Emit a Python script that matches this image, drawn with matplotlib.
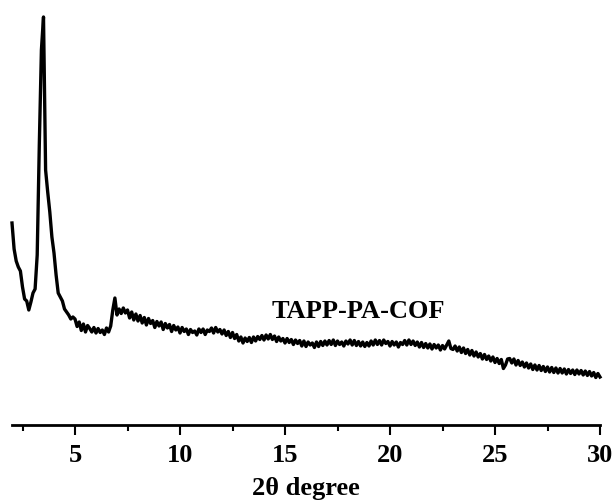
import numpy as np
import matplotlib
matplotlib.use("Agg")
import matplotlib.pyplot as plt
from matplotlib.ticker import MultipleLocator

plt.rcParams["font.family"] = ["Liberation Serif", "DejaVu Serif"]
plt.rcParams["font.weight"] = "bold"

# XRD pattern, 2-theta grid 2.0 .. 30.0 step 0.1 deg, intensity (a.u.)
two_theta = np.round(np.arange(2.0, 30.05, 0.1), 1)
intensity = [
    2020, 1760, 1640, 1580, 1540, 1380, 1260, 1240, 1150, 1230,
    1320, 1360, 1700, 2800, 3750, 4080, 2550, 2330, 2130, 1880,
    1720, 1500, 1320, 1280, 1240, 1160, 1130, 1100, 1060, 1080,
    1060, 985, 1030, 945, 1010, 930, 995, 965, 930, 975,
    920, 965, 925, 950, 905, 970, 930, 990, 1150, 1270,
    1100, 1160, 1115, 1170, 1120, 1150, 1070, 1130, 1050, 1110,
    1040, 1095, 1020, 1075, 1000, 1065, 1015, 1045, 975, 1035,
    990, 1030, 955, 1015, 970, 1005, 935, 995, 950, 980,
    920, 975, 935, 960, 905, 955, 925, 940, 900, 960,
    925, 960, 905, 950, 935, 970, 920, 975, 930, 955,
    910, 950, 895, 935, 875, 925, 865, 905, 840, 880,
    820, 870, 835, 875, 825, 880, 840, 885, 855, 895,
    850, 900, 860, 905, 855, 890, 835, 880, 840, 865,
    820, 865, 825, 855, 805, 850, 815, 845, 790, 840,
    785, 830, 800, 820, 775, 830, 785, 835, 795, 840,
    800, 845, 805, 850, 795, 840, 805, 830, 790, 840,
    810, 850, 800, 845, 795, 835, 790, 830, 785, 825,
    790, 840, 800, 850, 805, 845, 800, 850, 815, 835,
    790, 835, 800, 830, 780, 825, 805, 845, 800, 850,
    805, 840, 795, 830, 780, 825, 775, 815, 770, 810,
    760, 805, 770, 800, 750, 795, 760, 800, 840, 765,
    755, 790, 740, 780, 725, 770, 715, 755, 700, 745,
    690, 730, 680, 715, 660, 705, 655, 690, 640, 680,
    625, 665, 615, 655, 565, 600, 660, 665, 620, 660,
    600, 645, 595, 630, 580, 620, 570, 610, 555, 600,
    550, 595, 545, 585, 535, 580, 530, 575, 525, 570,
    520, 565, 520, 560, 510, 555, 515, 550, 505, 550,
    510, 545, 500, 540, 495, 535, 490, 525, 475, 515,
    480,
]
sample_label = "TAPP-PA-COF"

fig = plt.figure(figsize=(6.14, 5.0), dpi=100)
ax = fig.add_axes([12 / 614, 75 / 500, 588 / 614, 425 / 500])

ax.plot(two_theta, intensity, color="black", linewidth=2.4, clip_on=False)
ax.text(18.5, 1140, sample_label, ha="center", va="center",
        fontsize=19, fontweight="bold")

ax.set_xlim(2.0, 30.0)
ax.set_ylim(0, 4250)

for side in ("left", "right", "top"):
    ax.spines[side].set_visible(False)
ax.spines["bottom"].set_linewidth(2.0)

ax.xaxis.set_major_locator(MultipleLocator(5))
ax.xaxis.set_minor_locator(MultipleLocator(2.5))
ax.tick_params(axis="x", which="major", direction="out", length=7,
               width=1.5, pad=7, labelsize=19)
ax.tick_params(axis="x", which="minor", direction="out", length=4.5,
               width=1.5)
ax.set_yticks([])
for lbl in ax.get_xticklabels():
    lbl.set_fontweight("bold")

ax.set_xlabel("2θ degree", fontsize=19, fontweight="bold", labelpad=7)

fig.savefig("out.png", dpi=100)
